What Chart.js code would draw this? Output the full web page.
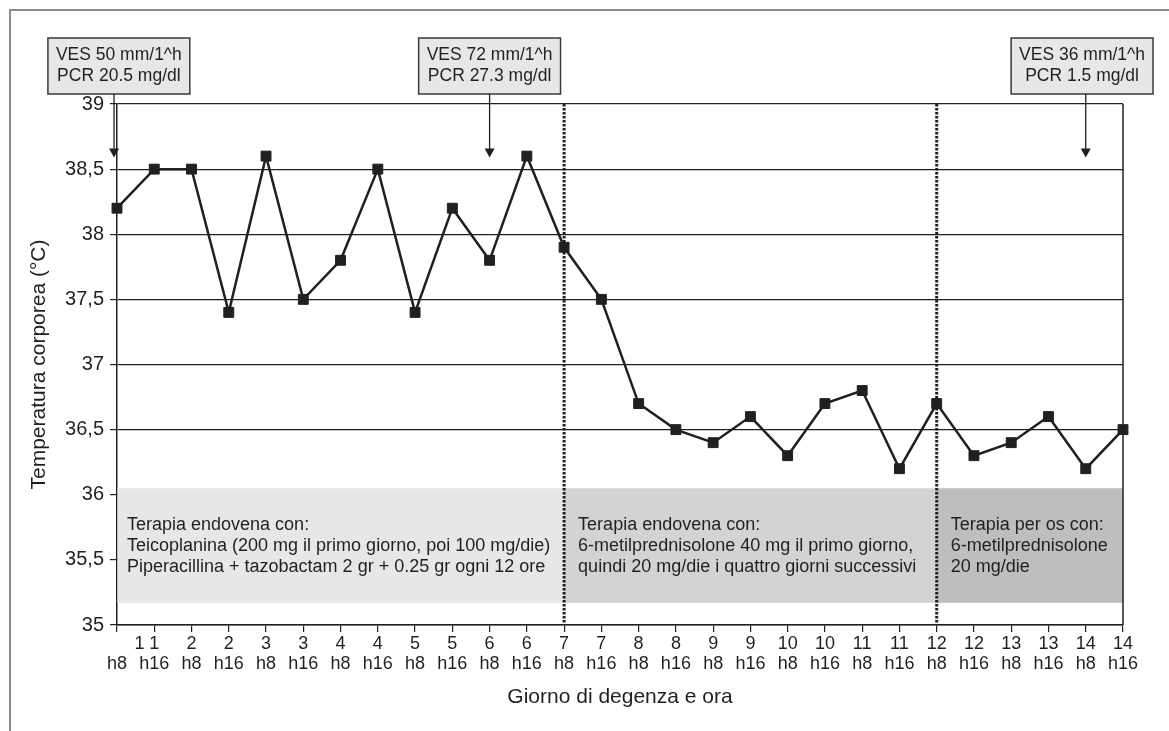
<!DOCTYPE html>
<html>
<head>
<meta charset="utf-8">
<script src="https://cdn.jsdelivr.net/npm/chart.js@4"></script>
<style>
	body { margin: 0; background: #fff; }
	canvas { display: block; }
</style>
</head>
<body>
<canvas id="tempChart" width="1169" height="731"></canvas>
<script>
// days / hours shown under each tick (first "1" sits off to the right in the original)
const dayLabels = ["\u2003\u2003\u20021", "1", "2", "2", "3", "3", "4", "4", "5", "5", "6", "6", "7", "7",
	"8", "8", "9", "9", "10", "10", "11", "11", "12", "12", "13", "13", "14", "14"];
const hourLabels = ["h8", "h16", "h8", "h16", "h8", "h16", "h8", "h16", "h8", "h16", "h8", "h16", "h8", "h16",
	"h8", "h16", "h8", "h16", "h8", "h16", "h8", "h16", "h8", "h16", "h8", "h16", "h8", "h16"];
const temperature = [38.2, 38.5, 38.5, 37.4, 38.6, 37.5, 37.8, 38.5, 37.4, 38.2, 37.8, 38.6, 37.9, 37.5,
	36.7, 36.5, 36.4, 36.6, 36.3, 36.7, 36.8, 36.2, 36.7, 36.3, 36.4, 36.6, 36.2, 36.5];
const yTickLabels = ["35", "35,5", "36", "36,5", "37", "37,5", "38", "38,5", "39"];

// therapy phases (index range on the x axis, temperature band of the grey box)
const phaseStart = [0, 12, 22];
const phaseEnd = [12, 22, 27];
const phaseBand = [35.17, 36.05];
const phaseColors = ["#e6e7e8", "#d1d3d4", "#bcbec0"];
const phaseText = [
	["Terapia endovena con:", "Teicoplanina (200 mg il primo giorno, poi 100 mg/die)", "Piperacillina + tazobactam 2 gr + 0.25 gr ogni 12 ore"],
	["Terapia endovena con:", "6-metilprednisolone 40 mg il primo giorno,", "quindi 20 mg/die i quattro giorni successivi"],
	["Terapia per os con:", "6-metilprednisolone", "20 mg/die"],
];
const dividerAt = [12, 22];

// lab values: arrow index, box anchor index
const labAt = [-0.08, 10, 26];
const labBoxAt = [0.05, 10, 26];
const labArrowTip = 38.59;
const labText = [
	["VES 50 mm/1^h", "PCR 20.5 mg/dl"],
	["VES 72 mm/1^h", "PCR 27.3 mg/dl"],
	["VES 36 mm/1^h", "PCR 1.5 mg/dl"],
];

const ink = "#231f20";
const fontName = "'Liberation Sans', Arial, Helvetica, sans-serif";

const extras = {
	id: "extras",
	beforeDraw(chart) {
		const ctx = chart.ctx;
		ctx.save();
		ctx.fillStyle = "#fff";
		ctx.fillRect(0, 0, chart.width, chart.height);
		// outer frame (top + left)
		ctx.strokeStyle = "#8c8c8c";
		ctx.lineWidth = 2;
		ctx.beginPath();
		ctx.moveTo(10, chart.height);
		ctx.lineTo(10, 10);
		ctx.lineTo(chart.width, 10);
		ctx.stroke();
		ctx.restore();
	},
	beforeDatasetsDraw(chart) {
		const ctx = chart.ctx;
		const xs = chart.scales.x;
		const ys = chart.scales.y;
		const area = chart.chartArea;
		const top = ys.getPixelForValue(phaseBand[1]);
		const bottom = ys.getPixelForValue(phaseBand[0]);
		ctx.save();
		for (var i = 0; i < phaseStart.length; i++) {
			var x0 = xs.getPixelForValue(phaseStart[i]);
			var x1 = xs.getPixelForValue(phaseEnd[i]);
			ctx.fillStyle = phaseColors[i];
			ctx.fillRect(x0 + (i === 0 ? 0.5 : 0), top, x1 - x0, bottom - top);
			ctx.fillStyle = ink;
			ctx.font = "18px " + fontName;
			ctx.textBaseline = "middle";
			ctx.textAlign = "left";
			var mid = (top + bottom) / 2;
			phaseText[i].forEach((line, k) => {
				ctx.fillText(line, x0 + (i === 0 ? 10 : 14), mid + (k - 1) * 21);
			});
		}
		// dotted dividers
		ctx.strokeStyle = ink;
		ctx.lineWidth = 3;
		ctx.setLineDash([2.5, 1.5]);
		dividerAt.forEach((d) => {
			var x = xs.getPixelForValue(d);
			ctx.beginPath();
			ctx.moveTo(x, area.top);
			ctx.lineTo(x, area.bottom);
			ctx.stroke();
		});
		ctx.setLineDash([]);
		// right border of plot
		ctx.lineWidth = 1.5;
		ctx.beginPath();
		ctx.moveTo(area.right, area.top);
		ctx.lineTo(area.right, area.bottom);
		ctx.stroke();
		ctx.restore();
	},
	afterDraw(chart) {
		const ctx = chart.ctx;
		const xs = chart.scales.x;
		const ys = chart.scales.y;
		const area = chart.chartArea;
		const tipY = ys.getPixelForValue(labArrowTip);
		const boxBottom = area.top - 10;
		const boxH = 56;
		ctx.save();
		ctx.font = "17.5px " + fontName;
		labAt.forEach((idx, i) => {
			var x = xs.getPixelForValue(idx);
			var cx = xs.getPixelForValue(labBoxAt[i]);
			var w = Math.max(...labText[i].map((t) => ctx.measureText(t).width)) + 16;
			var bx = Math.min(cx - w / 2, chart.width - w - 16);
			ctx.fillStyle = "#e6e7e8";
			ctx.fillRect(bx, boxBottom - boxH, w, boxH);
			ctx.strokeStyle = "#3a3a3a";
			ctx.lineWidth = 1.5;
			ctx.strokeRect(bx, boxBottom - boxH, w, boxH);
			ctx.fillStyle = ink;
			ctx.textAlign = "center";
			ctx.textBaseline = "middle";
			labText[i].forEach((t, k) => {
				ctx.fillText(t, bx + w / 2, boxBottom - boxH / 2 + (k === 0 ? -10.5 : 10.5));
			});
			// arrow
			ctx.strokeStyle = ink;
			ctx.lineWidth = 1.3;
			ctx.beginPath();
			ctx.moveTo(x, boxBottom);
			ctx.lineTo(x, tipY - 6);
			ctx.stroke();
			ctx.beginPath();
			ctx.moveTo(x - 5, tipY - 9);
			ctx.lineTo(x + 5, tipY - 9);
			ctx.lineTo(x, tipY);
			ctx.closePath();
			ctx.fill();
		});
		ctx.restore();
	},
};

const labels = dayLabels.map((d, i) => [d, hourLabels[i]]);

new Chart(document.getElementById("tempChart"), {
	type: "line",
	data: {
		labels: labels,
		datasets: [
			{
				data: temperature,
				borderColor: ink,
				borderWidth: 2.5,
				tension: 0,
				pointStyle: "rect",
				pointRadius: 7,
				pointBorderWidth: 1,
				pointBackgroundColor: ink,
				pointBorderColor: ink,
				clip: false,
			},
		],
	},
	options: {
		responsive: false,
		animation: false,
		layout: { padding: { left: 0, top: 104, right: 46, bottom: 0 } },
		plugins: { legend: { display: false }, tooltip: { enabled: false } },
		scales: {
			x: {
				offset: false,
				afterFit: (s) => { s.height = 106; },
				grid: { drawOnChartArea: false, color: ink, tickLength: 7, lineWidth: 1.2 },
				border: { color: ink, width: 1.5 },
				ticks: {
					autoSkip: false,
					maxRotation: 0,
					padding: 2,
					color: ink,
					font: { family: fontName, size: 18, lineHeight: 1.1 },
				},
				title: {
					display: true,
					text: "Giorno di degenza e ora",
					color: ink,
					font: { family: fontName, size: 21 },
					padding: { top: 0, bottom: 21 },
				},
			},
			y: {
				min: 35,
				max: 39,
				afterFit: (s) => { s.width = 117; },
				grid: { color: ink, tickLength: 7, lineWidth: 1.2 },
				border: { color: ink, width: 1.5 },
				ticks: {
					stepSize: 0.5,
					padding: 6,
					color: ink,
					font: { family: fontName, size: 20 },
					callback: (v, i) => yTickLabels[i],
				},
				title: {
					display: true,
					text: "Temperatura corporea (°C)",
					color: ink,
					font: { family: fontName, size: 21 },
					padding: { top: 27, bottom: 0 },
				},
			},
		},
	},
	plugins: [extras],
});
</script>
</body>
</html>
